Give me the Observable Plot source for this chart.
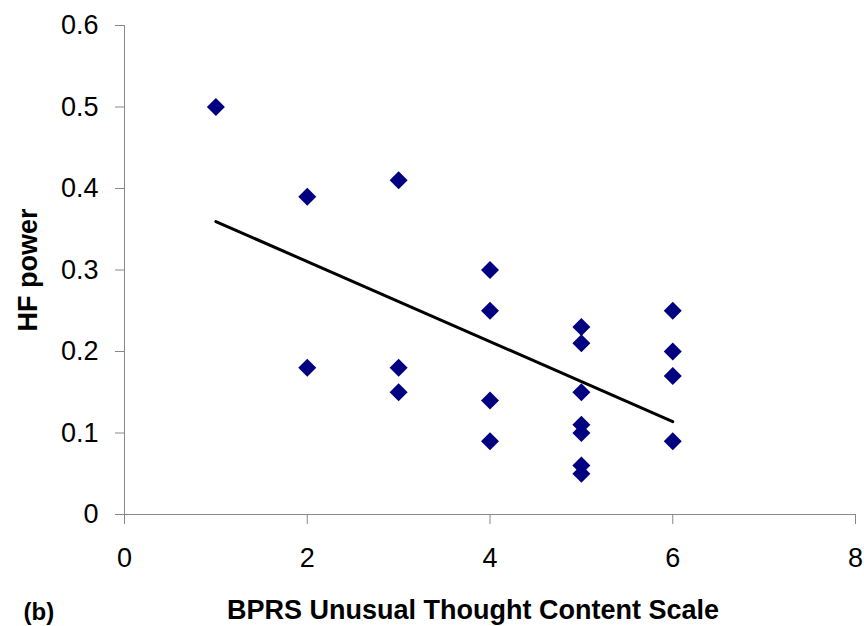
<!DOCTYPE html>
<html>
<head>
<meta charset="utf-8">
<script src="https://cdn.jsdelivr.net/npm/d3@7"></script>
<script src="https://cdn.jsdelivr.net/npm/@observablehq/plot@0.6"></script>
<style>
  html, body { margin: 0; padding: 0; background: #fff; }
  #chart svg { display: block; }
</style>
</head>
<body>
<div id="chart"></div>
<script>
// Data
const bprs    = [1,   2,    2,    3,    3,    3,    4,    4,    4,    4,    5,    5,    5,    5,    5,    5,    5,    6,    6,    6,    6];
const hfPower = [0.50,0.39, 0.18, 0.41, 0.18, 0.15, 0.30, 0.25, 0.14, 0.09, 0.23, 0.21, 0.15, 0.11, 0.10, 0.06, 0.05, 0.25, 0.20, 0.17, 0.09];
const xTicks = [0, 2, 4, 6, 8];
const yTicks = [0, 0.1, 0.2, 0.3, 0.4, 0.5, 0.6];
const xTitle = "BPRS Unusual Thought Content Scale";
const yTitle = "HF power";
const panelLabel = "(b)";

const data = bprs.map((x, i) => ({x, y: hfPower[i]}));

const font = "'Liberation Sans', Arial, sans-serif";
const axisGray = "#888888";

const chart = Plot.plot({
  width: 864,
  height: 626,
  marginLeft: 124,
  marginRight: 9,
  marginTop: 25,
  marginBottom: 112,
  style: {fontFamily: font, color: "black", background: "white", overflow: "visible"},
  x: {domain: [0, 8]},
  y: {domain: [0, 0.6]},
  marks: [
    Plot.axisX({ticks: xTicks, tickSize: 10, tickPadding: 23, fontSize: 27, stroke: axisGray, fill: "black", label: null, tickFormat: d => String(d)}),
    Plot.axisY({ticks: yTicks, tickSize: 9, tickPadding: 17, fontSize: 27, stroke: axisGray, fill: "black", label: null, tickFormat: d => String(d)}),
    Plot.ruleX([0], {stroke: axisGray, strokeWidth: 1}),
    Plot.ruleY([0], {stroke: axisGray, strokeWidth: 1}),
    Plot.linearRegressionY(data, {x: "x", y: "y", ci: 0, stroke: "black", strokeWidth: 3}),
    Plot.dot(data, {x: "x", y: "y", symbol: "diamond2", r: 8.1, fill: "#000080", stroke: "none"}),
    Plot.text([yTitle], {frameAnchor: "left", dx: -96, rotate: -90, fontSize: 27, fontWeight: "bold", fill: "black", textAnchor: "middle"}),
    Plot.text([xTitle], {frameAnchor: "bottom", dx: -17, dy: 104, lineAnchor: "bottom", fontSize: 27, fontWeight: "bold", fill: "black", textAnchor: "middle"}),
    Plot.text([panelLabel], {frameAnchor: "bottom-left", dx: -101, dy: 105, lineAnchor: "bottom", textAnchor: "start", fontSize: 24, fontWeight: "bold", fill: "black"})
  ]
});
document.getElementById("chart").appendChild(chart);
</script>
</body>
</html>
